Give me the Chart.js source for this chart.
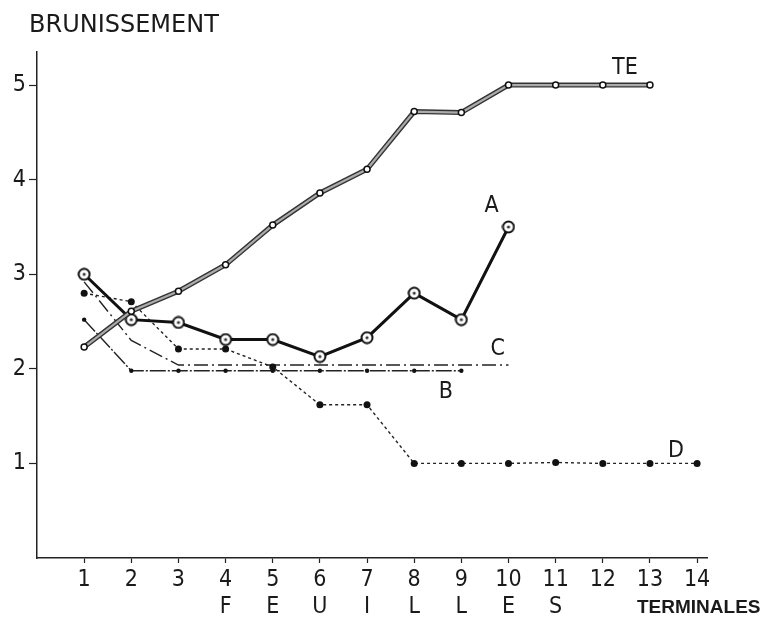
<!DOCTYPE html>
<html>
<head>
<meta charset="utf-8">
<script src="https://cdn.jsdelivr.net/npm/chart.js@4/dist/chart.umd.min.js"></script>
<style>
  html, body { margin: 0; padding: 0; background: #fff; }
  #wrap { width: 768px; height: 619px; }
</style>
</head>
<body>
<div id="wrap"><canvas id="chart"></canvas></div>
<script>
// feuilles terminales 1..14
var feuilles = [1, 2, 3, 4, 5, 6, 7, 8, 9, 10, 11, 12, 13, 14];
var lettres = ['', '', '', 'F', 'E', 'U', 'I', 'L', 'L', 'E', 'S', '', '', ''];
var yTicks = [1, 2, 3, 4, 5];

// brunissement par serie
var serieTE = [2.23, 2.61, 2.82, 3.1, 3.52, 3.86, 4.11, 4.72, 4.71, 5.0, 5.0, 5.0, 5.0];
var serieA = [3.0, 2.52, 2.49, 2.31, 2.31, 2.13, 2.33, 2.8, 2.52, 3.5];
var serieB = [2.52, 1.98, 1.98, 1.98, 1.98, 1.98, 1.98, 1.98, 1.98];
var serieC = [2.92, 2.3, 2.04, 2.04, 2.04, 2.04, 2.04, 2.04, 2.04, 2.04];
var serieD = [2.8, 2.71, 2.21, 2.21, 2.02, 1.62, 1.62, 1.0, 1.0, 1.0, 1.01, 1.0, 1.0, 1.0];

// nom de chaque courbe, place en unites du graphique
var nomsSeries = ['TE', 'A', 'C', 'B', 'D'];
var nomsX = [12.47, 9.64, 9.77, 8.67, 13.55];
var nomsY = [5.18, 3.72, 2.21, 1.75, 1.13];

const fontNarrow = '"Liberation Sans Narrow", "DejaVu Sans Condensed", "DejaVu Sans", sans-serif';

function pts(values) {
    return values.map(function(v, i) { return { x: feuilles[i], y: v }; });
}

// cercle double pour la serie A
function cercleDouble() {
    var c = document.createElement('canvas');
    c.width = 14; c.height = 14;
    var g = c.getContext('2d');
    g.beginPath();
    g.arc(7, 7, 5.5, 0, Math.PI * 2);
    g.fillStyle = '#fff';
    g.fill();
    g.lineWidth = 2;
    g.strokeStyle = '#111';
    g.stroke();
    g.beginPath();
    g.arc(7, 7, 1.6, 0, Math.PI * 2);
    g.fillStyle = '#333';
    g.fill();
    return c;
}

var textes = {
    id: 'textes',
    afterDraw: function(chart) {
        var ctx = chart.ctx;
        var xs = chart.scales.x, ys = chart.scales.y;
        ctx.save();
        ctx.fillStyle = '#1a1a1a';
        ctx.textAlign = 'center';
        ctx.textBaseline = 'middle';
        ctx.font = '23px ' + fontNarrow;
        for (var i = 0; i < nomsSeries.length; i++) {
            ctx.fillText(nomsSeries[i], xs.getPixelForValue(nomsX[i]), ys.getPixelForValue(nomsY[i]));
        }
        ctx.textAlign = 'left';
        ctx.font = '24px "DejaVu Sans", sans-serif';
        ctx.fillText('BRUNISSEMENT', 29, 26);
        ctx.font = 'bold 19px "Liberation Sans", Arial, sans-serif';
        ctx.fillText('TERMINALES', chart.chartArea.right - 70, 608);
        ctx.restore();
    }
};

var ctx = document.getElementById('chart').getContext('2d');
var chart = new Chart(ctx, {
    type: 'line',
    data: {
        datasets: [
            {
                label: 'TE',
                data: pts(serieTE),
                borderColor: '#ababab',
                borderWidth: 2.2,
                pointRadius: 3,
                pointBackgroundColor: '#fff',
                pointBorderColor: '#111',
                pointBorderWidth: 1.5
            },
            {
                label: 'TE bord',
                data: pts(serieTE),
                borderColor: '#333',
                borderWidth: 5,
                pointRadius: 0
            },
            {
                label: 'A',
                data: pts(serieA),
                borderColor: '#111',
                borderWidth: 3,
                pointStyle: cercleDouble(),
                pointRadius: 6
            },
            {
                label: 'D',
                data: pts(serieD),
                borderColor: '#222',
                borderWidth: 1.4,
                borderDash: [3, 3],
                pointRadius: 3.5,
                pointBackgroundColor: '#111',
                pointBorderColor: '#111',
                pointBorderWidth: 0
            },
            {
                label: 'B',
                data: pts(serieB),
                borderColor: '#222',
                borderWidth: 1.4,
                borderDash: [16, 2, 2, 2],
                pointRadius: 2.2,
                pointBackgroundColor: '#111',
                pointBorderWidth: 0
            },
            {
                label: 'C',
                data: pts(serieC),
                borderColor: '#222',
                borderWidth: 1.4,
                borderDash: [14, 4, 2, 4],
                pointRadius: 0
            }
        ]
    },
    options: {
        responsive: true,
        maintainAspectRatio: false,
        animation: false,
        layout: { padding: { left: 0, right: 61, top: 52, bottom: 0 } },
        plugins: {
            legend: { display: false },
            tooltip: { enabled: false }
        },
        elements: { line: { tension: 0 } },
        scales: {
            x: {
                type: 'linear',
                min: 0,
                max: 14.21,
                afterBuildTicks: function(s) { s.ticks = feuilles.map(function(v) { return { value: v }; }); },
                afterFit: function(s) { s.height = 61; },
                border: { display: true, color: '#222', width: 1.5 },
                grid: { drawOnChartArea: false, drawTicks: true, tickLength: 5, color: '#222', tickWidth: 1.2 },
                ticks: {
                    color: '#1a1a1a',
                    padding: 3,
                    maxRotation: 0,
                    autoSkip: false,
                    font: { family: fontNarrow, size: 23, lineHeight: 1.2 },
                    callback: function(v) {
                        var i = feuilles.indexOf(v);
                        return lettres[i] ? [String(v), lettres[i]] : String(v);
                    }
                }
            },
            y: {
                min: 0,
                max: 5.35,
                afterBuildTicks: function(s) { s.ticks = yTicks.map(function(v) { return { value: v }; }); },
                afterFit: function(s) { s.width = 37; },
                border: { display: true, color: '#222', width: 1.5 },
                grid: { drawOnChartArea: false, drawTicks: true, tickLength: 8, color: '#222', tickWidth: 1.2 },
                ticks: {
                    color: '#1a1a1a',
                    padding: 3,
                    font: { family: fontNarrow, size: 23 }
                }
            }
        }
    },
    plugins: [textes]
});
</script>
</body>
</html>
